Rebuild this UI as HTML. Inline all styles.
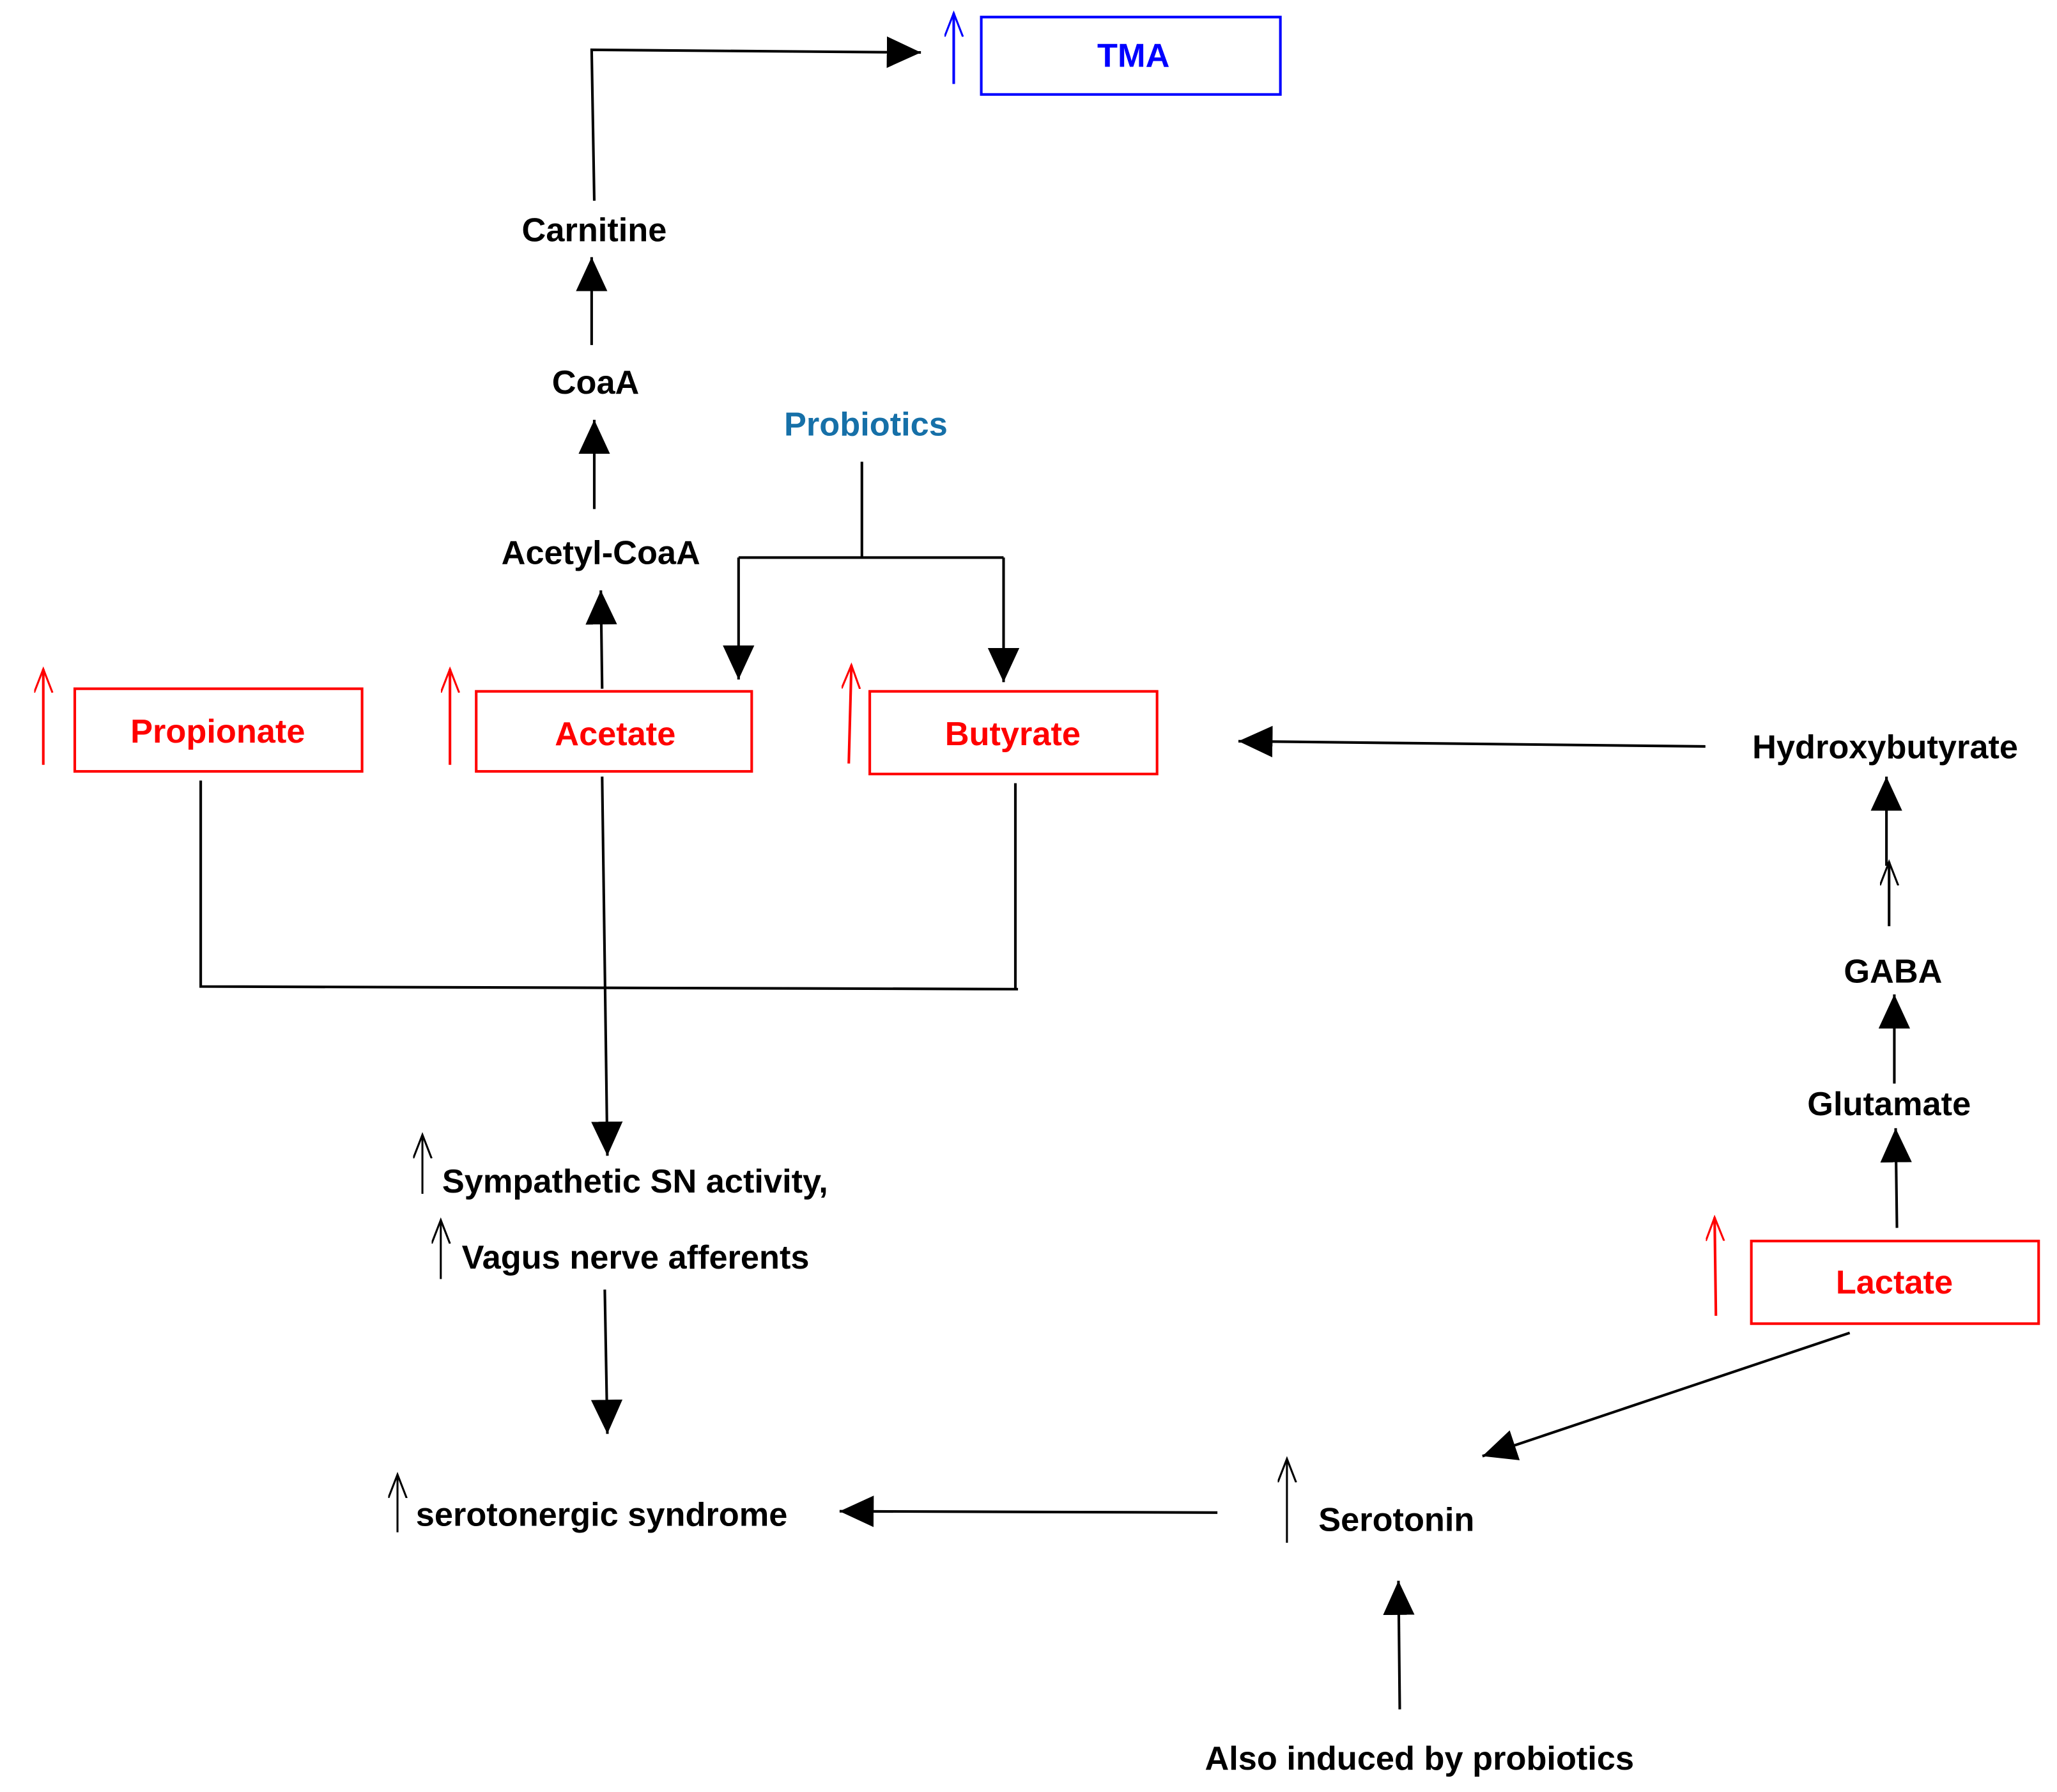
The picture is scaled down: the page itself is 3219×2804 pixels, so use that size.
<!DOCTYPE html>
<html><head><meta charset="utf-8"><style>html,body{margin:0;padding:0;background:#fff;}svg{display:block}</style></head>
<body>
<svg width="3219" height="2804" viewBox="0 0 1568 1366" preserveAspectRatio="none" xmlns="http://www.w3.org/2000/svg" font-family="Liberation Sans, sans-serif" font-weight="bold">
<defs>
<marker id="f" markerUnits="userSpaceOnUse" markerWidth="30" markerHeight="26" refX="26" refY="12" orient="auto"><path d="M0,0 L26,12 L0,24 Z" fill="#000"/></marker>
<marker id="o" markerUnits="userSpaceOnUse" markerWidth="20" markerHeight="20" refX="18" refY="7" orient="auto"><path d="M0,0 L18,7 L0,14" fill="none" stroke="#000" stroke-width="1.5"/></marker>
<marker id="or" markerUnits="userSpaceOnUse" markerWidth="20" markerHeight="20" refX="18" refY="7" orient="auto"><path d="M0,0 L18,7 L0,14" fill="none" stroke="#f00" stroke-width="1.5"/></marker>
<marker id="ob" markerUnits="userSpaceOnUse" markerWidth="20" markerHeight="20" refX="18" refY="7" orient="auto"><path d="M0,0 L18,7 L0,14" fill="none" stroke="#00f" stroke-width="1.5"/></marker>
</defs>
<g fill="none" stroke="#000" stroke-width="2">
<polyline points="453,153 451,38 702,40" marker-end="url(#f)"/>
<line x1="451" y1="263" x2="451" y2="196" marker-end="url(#f)"/>
<line x1="453" y1="388" x2="453" y2="320" marker-end="url(#f)"/>
<line x1="657" y1="352" x2="657" y2="425"/>
<polyline points="563,425 765,425"/>
<line x1="563" y1="425" x2="563" y2="518" marker-end="url(#f)"/>
<line x1="765" y1="425" x2="765" y2="520" marker-end="url(#f)"/>
<line x1="459" y1="525" x2="458" y2="450" marker-end="url(#f)"/>
<polyline points="153,595 153,752 776,754"/>
<line x1="774" y1="597" x2="774" y2="754"/>
<line x1="459" y1="592" x2="463" y2="881" marker-end="url(#f)"/>
<line x1="461" y1="983" x2="463" y2="1093" marker-end="url(#f)"/>
<line x1="928" y1="1153" x2="640" y2="1152" marker-end="url(#f)"/>
<line x1="1067" y1="1303" x2="1066" y2="1205" marker-end="url(#f)"/>
<line x1="1410" y1="1016" x2="1130" y2="1110" marker-end="url(#f)"/>
<line x1="1446" y1="936" x2="1445" y2="860" marker-end="url(#f)"/>
<line x1="1444" y1="826" x2="1444" y2="758" marker-end="url(#f)"/>
<line x1="1440" y1="706" x2="1440" y2="657" marker-end="url(#o)"/>
<line x1="1438" y1="660" x2="1438" y2="592" marker-end="url(#f)"/>
<line x1="1300" y1="569" x2="944" y2="565" marker-end="url(#f)"/>
</g>
<g stroke="#000" stroke-width="1.5" fill="none">
<line x1="322" y1="910" x2="322" y2="865" marker-end="url(#o)"/>
<line x1="336" y1="975" x2="336" y2="930" marker-end="url(#o)"/>
<line x1="303" y1="1168" x2="303" y2="1124" marker-end="url(#o)"/>
<line x1="981" y1="1176" x2="981" y2="1112" marker-end="url(#o)"/>
</g>
<g stroke="#f00" stroke-width="2" fill="none">
<rect x="57" y="525" width="219" height="63"/>
<rect x="363" y="527" width="210" height="61"/>
<rect x="663" y="527" width="219" height="63"/>
<rect x="1335" y="946" width="219" height="63"/>
<line x1="33" y1="583" x2="33" y2="510" marker-end="url(#or)"/>
<line x1="343" y1="583" x2="343" y2="510" marker-end="url(#or)"/>
<line x1="647" y1="582" x2="649" y2="507" marker-end="url(#or)"/>
<line x1="1308" y1="1003" x2="1307" y2="928" marker-end="url(#or)"/>
</g>
<g stroke="#00f" stroke-width="2" fill="none">
<rect x="748" y="13" width="228" height="59"/>
<line x1="727" y1="64" x2="727" y2="10" marker-end="url(#ob)"/>
</g>
<g font-size="25.5" text-anchor="middle" fill="#000">
<text x="864" y="51" fill="#00f">TMA</text>
<text x="453" y="184">Carnitine</text>
<text x="454" y="300">CoaA</text>
<text x="660" y="332" fill="#1670a8">Probiotics</text>
<text x="458" y="430">Acetyl-CoaA</text>
<text x="166" y="566" fill="#f00">Propionate</text>
<text x="469" y="568" fill="#f00">Acetate</text>
<text x="772" y="568" fill="#f00">Butyrate</text>
<text x="1444" y="986" fill="#f00">Lactate</text>
<text x="1437" y="578">Hydroxybutyrate</text>
<text x="1443" y="749">GABA</text>
<text x="1440" y="850">Glutamate</text>
<text x="1082" y="1349">Also induced by probiotics</text>
</g>
<g font-size="25.5" fill="#000">
<text x="337" y="909">Sympathetic SN activity,</text>
<text x="352" y="967">Vagus nerve afferents</text>
<text x="317" y="1163">serotonergic syndrome</text>
<text x="1005" y="1167">Serotonin</text>
</g>
</svg>
</body></html>
